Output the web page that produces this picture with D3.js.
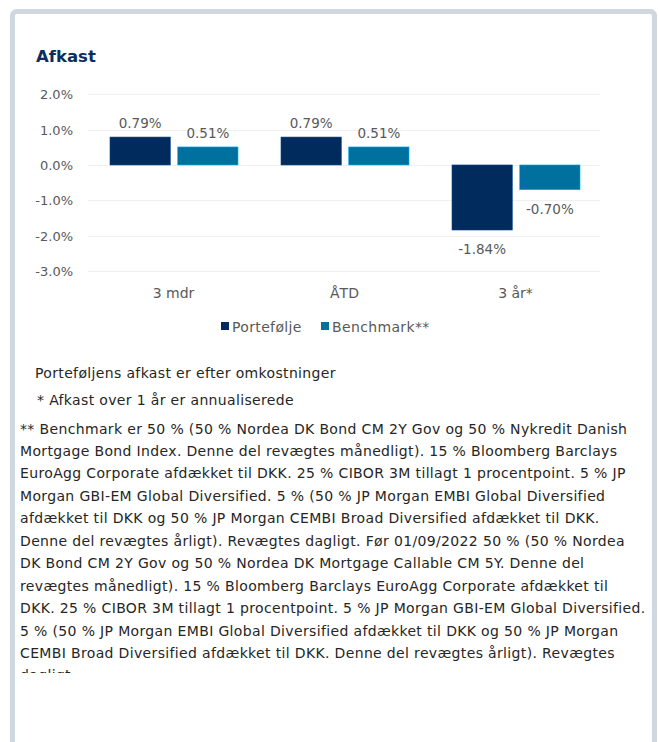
<!DOCTYPE html>
<html lang="da">
<head>
    <meta charset="UTF-8">
    <title>Afkast</title>
    <style>
        body { margin: 0; background: #fff; }
        svg { display: block; }
    </style>
</head>
<body>
    <div id="content"></div>

    <script src="https://cdn.jsdelivr.net/npm/d3@7/dist/d3.min.js"></script>
    <script>

        const periods = ["3 mdr", "ÅTD", "3 år*"];
        const seriesNames = ["Portefølje", "Benchmark**"];
        const portefolje = [0.79, 0.79, -1.84];
        const benchmark = [0.51, 0.51, -0.70];
        const yTicks = [2, 1, 0, -1, -2, -3];

        const notes = [
            "Porteføljens afkast er efter omkostninger",
            "* Afkast over 1 år er annualiserede"
        ];

        const footnote = [
            "** Benchmark er 50 % (50 % Nordea DK Bond CM 2Y Gov og 50 % Nykredit Danish",
            "Mortgage Bond Index. Denne del revægtes månedligt). 15 % Bloomberg Barclays",
            "EuroAgg Corporate afdækket til DKK. 25 % CIBOR 3M tillagt 1 procentpoint. 5 % JP",
            "Morgan GBI-EM Global Diversified. 5 % (50 % JP Morgan EMBI Global Diversified",
            "afdækket til DKK og 50 % JP Morgan CEMBI Broad Diversified afdækket til DKK.",
            "Denne del revægtes årligt). Revægtes dagligt. Før 01/09/2022 50 % (50 % Nordea",
            "DK Bond CM 2Y Gov og 50 % Nordea DK Mortgage Callable CM 5Y. Denne del",
            "revægtes månedligt). 15 % Bloomberg Barclays EuroAgg Corporate afdækket til",
            "DKK. 25 % CIBOR 3M tillagt 1 procentpoint. 5 % JP Morgan GBI-EM Global Diversified.",
            "5 % (50 % JP Morgan EMBI Global Diversified afdækket til DKK og 50 % JP Morgan",
            "CEMBI Broad Diversified afdækket til DKK. Denne del revægtes årligt). Revægtes",
            "dagligt"
        ];

        const colors = ["#002b5c", "#00709f"];
        const font = "'DejaVu Sans', sans-serif";

        const width = 658, height = 742;

        const svg = d3.select("#content")
            .append("svg")
            .attr("width", width)
            .attr("height", height);

        // outer frame
        svg.append("rect")
            .attr("x", 12.5)
            .attr("y", 11.5)
            .attr("width", 642)
            .attr("height", 800)
            .attr("rx", 4)
            .attr("fill", "#fff")
            .attr("stroke", "#cfd7e0")
            .attr("stroke-width", 5);

        svg.append("text")
            .attr("x", 36)
            .attr("y", 62)
            .attr("font-family", font)
            .attr("font-size", 16.5)
            .attr("font-weight", "bold")
            .attr("fill", "#0c2e5f")
            .text("Afkast");

        // scales
        const x = d3.scaleBand()
            .domain(periods)
            .range([88, 601])
            .paddingInner(0)
            .paddingOuter(0);

        const x1 = d3.scaleBand()
            .domain(seriesNames)
            .range([22, x.bandwidth() - 21])
            .paddingInner(0.11);

        const y = d3.scaleLinear()
            .domain([-3, 2])
            .range([271, 94.3]);

        // gridlines
        svg.append("g")
            .selectAll("line")
            .data(yTicks)
            .join("line")
                .attr("x1", 88)
                .attr("x2", 600)
                .attr("y1", (d) => Math.round(y(d)) + 0.5)
                .attr("y2", (d) => Math.round(y(d)) + 0.5)
                .attr("stroke", "#f0f0f0")
                .attr("stroke-width", 1);

        // y axis labels
        svg.append("g")
            .selectAll("text")
            .data(yTicks)
            .join("text")
                .attr("x", 73)
                .attr("y", (d) => y(d) + 5)
                .attr("text-anchor", "end")
                .attr("font-family", font)
                .attr("font-size", 13)
                .attr("fill", "#595959")
                .text((d) => d.toFixed(1) + "%");

        // bars
        const rows = periods.map((p, i) => ({
            period: p,
            values: [portefolje[i], benchmark[i]]
        }));

        const groups = svg.append("g")
            .selectAll("g.period")
            .data(rows)
            .join("g")
                .classed("period", true)
                .attr("transform", (d) => `translate(${x(d.period)},0)`);

        const cells = groups.selectAll("g.bar")
            .data((d) => d.values.map((v, j) => ({ key: seriesNames[j], value: v, j: j })))
            .join("g")
                .classed("bar", true);

        cells.append("rect")
            .attr("x", (d) => x1(d.key))
            .attr("width", x1.bandwidth())
            .attr("y", (d) => y(Math.max(0, d.value)))
            .attr("height", (d) => Math.abs(y(d.value) - y(0)))
            .attr("fill", (d) => colors[d.j])
            .attr("stroke", (d) => d3.color(colors[d.j]).brighter(1.2))
            .attr("stroke-width", 0.6);

        cells.append("text")
            .attr("x", (d) => x1(d.key) + x1.bandwidth() / 2)
            .attr("y", (d) => d.value >= 0 ? y(d.value) - 9 : y(d.value) + 24)
            .attr("text-anchor", "middle")
            .attr("font-family", font)
            .attr("font-size", 13.5)
            .attr("fill", "#595959")
            .text((d) => d.value.toFixed(2) + "%");

        // category labels
        svg.append("g")
            .selectAll("text")
            .data(periods)
            .join("text")
                .attr("x", (d) => x(d) + x.bandwidth() / 2)
                .attr("y", 298)
                .attr("text-anchor", "middle")
                .attr("font-family", font)
                .attr("font-size", 14)
                .attr("fill", "#595959")
                .text((d) => d);

        // legend
        const legend = svg.append("g")
            .selectAll("g")
            .data(seriesNames)
            .join("g")
                .attr("transform", (d, i) => `translate(${221 + i * 100},322)`);

        legend.append("rect")
            .attr("width", 8)
            .attr("height", 8)
            .attr("fill", (d, i) => colors[i]);

        legend.append("text")
            .attr("x", 11)
            .attr("y", 10)
            .attr("font-family", font)
            .attr("font-size", 14)
            .attr("letter-spacing", 0.35)
            .attr("fill", "#595959")
            .text((d) => d);

        // notes
        svg.append("g")
            .selectAll("text")
            .data(notes)
            .join("text")
                .attr("x", (d, i) => i === 0 ? 35 : 37)
                .attr("y", (d, i) => 378 + i * 27)
                .attr("font-family", font)
                .attr("font-size", 14)
                .attr("letter-spacing", 0.35)
                .attr("fill", "#262626")
                .text((d) => d);

        svg.append("clipPath")
            .attr("id", "textclip")
            .append("rect")
                .attr("x", 15)
                .attr("y", 410)
                .attr("width", 636)
                .attr("height", 263);

        svg.append("g")
            .attr("clip-path", "url(#textclip)")
            .selectAll("text")
            .data(footnote)
            .join("text")
                .attr("x", 20)
                .attr("y", (d, i) => 433.5 + i * 22.45)
                .attr("font-family", font)
                .attr("font-size", 14)
                .attr("letter-spacing", 0.35)
                .attr("fill", "#262626")
                .text((d) => d);

    </script>
</body>
</html>
